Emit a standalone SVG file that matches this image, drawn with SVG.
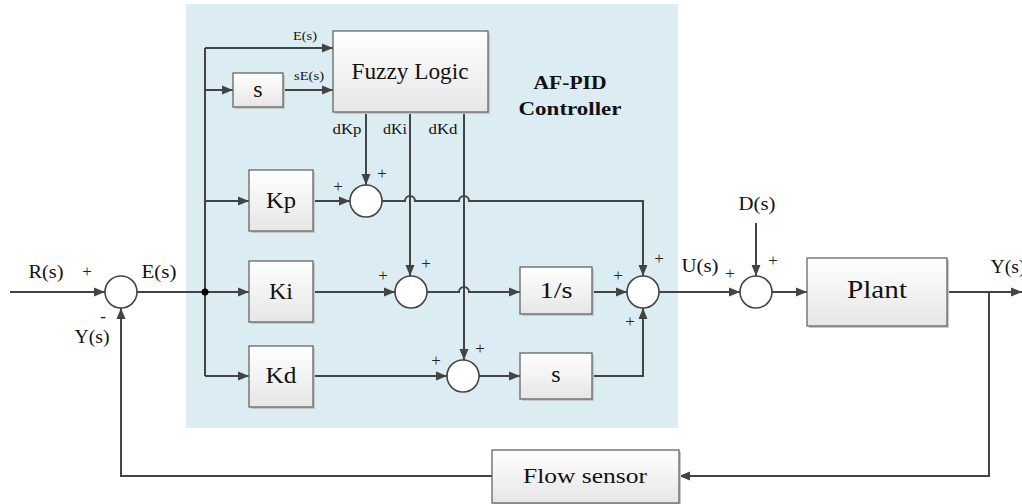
<svg xmlns="http://www.w3.org/2000/svg" width="1022" height="504" viewBox="0 0 1022 504">
<defs>
<linearGradient id="boxg" x1="0" y1="0" x2="0" y2="1">
<stop offset="0" stop-color="#ffffff"/>
<stop offset="1" stop-color="#e6e6e6"/>
</linearGradient>
<marker id="arr" markerUnits="userSpaceOnUse" markerWidth="12" markerHeight="10" refX="11" refY="5" orient="auto">
<path d="M0,0.5 L11,5 L0,9.5 z" fill="#444"/>
</marker>
</defs>
<style>
.box{fill:url(#boxg);stroke:#666;stroke-width:1.3}
.shd{fill:#c8c8c8}
.sum{fill:#fff;stroke:#444;stroke-width:1.6}
.ln{fill:none;stroke:#444;stroke-width:2}
.ar{marker-end:url(#arr)}
text{font-family:"Liberation Serif","Times New Roman",serif;fill:#111;text-anchor:middle;dominant-baseline:central}
.big{font-size:24px}
.mid{font-size:18px}
.sm{font-size:13px}
.lbl{font-size:15px}
.pl{font-size:17px;fill:#222}
.bold{font-size:19px;font-weight:bold}
</style>
<rect x="186" y="4" width="492" height="424" fill="#dbecf2"/>
<g id="connectors">
<path class="ln ar" d="M10,292 H105"/>
<path class="ln ar" d="M137,292 H249"/>
<path class="ln" d="M205,48 V376"/>
<path class="ln ar" d="M205,48 H333"/>
<path class="ln ar" d="M205,90 H233"/>
<path class="ln ar" d="M283,90 H333"/>
<path class="ln ar" d="M205,201 H249"/>
<path class="ln ar" d="M205,376 H249"/>
<path class="ln ar" d="M313,201 H350"/>
<path class="ln ar" d="M366,112 V185"/>
<path class="ln ar" d="M410,112 V276"/>
<path class="ln ar" d="M464,112 V360"/>
<path class="ln ar" d="M382,201 H405 a5,5 0 0 1 10,0 H459 a5,5 0 0 1 10,0 H643 V276"/>
<path class="ln ar" d="M313,292 H395"/>
<path class="ln ar" d="M427,292 H459 a5,5 0 0 1 10,0 H520"/>
<path class="ln ar" d="M592,292 H627"/>
<path class="ln ar" d="M313,376 H447"/>
<path class="ln ar" d="M479,376 H520"/>
<path class="ln ar" d="M592,376 H643 V308"/>
<path class="ln ar" d="M659,292 H740"/>
<path class="ln ar" d="M756,223 V276"/>
<path class="ln ar" d="M772,292 H807"/>
<path class="ln ar" d="M947,292 H1022"/>
<path class="ln ar" d="M989,292 V476 H679"/>
<path class="ln ar" d="M492,476 H121 V308"/>
<circle cx="205" cy="292" r="3.5" fill="#000"/>
</g>
<g id="sum-input"><circle class="sum" cx="121" cy="292" r="16"/></g>
<g id="sum-p"><circle class="sum" cx="366" cy="201" r="16"/></g>
<g id="sum-i"><circle class="sum" cx="411" cy="292" r="16"/></g>
<g id="sum-d"><circle class="sum" cx="463" cy="376" r="16"/></g>
<g id="sum-main"><circle class="sum" cx="643" cy="292" r="16"/></g>
<g id="sum-dist"><circle class="sum" cx="756" cy="292" r="16"/></g>
<g id="fuzzy"><rect class="shd" x="335" y="33" width="155" height="81"/><rect class="box" x="333" y="31" width="155" height="81"/><text x="410" y="71" style="font-size:23px" textLength="117" lengthAdjust="spacingAndGlyphs">Fuzzy Logic</text></g>
<g id="s-deriv"><rect class="shd" x="235" y="75" width="50" height="34"/><rect class="box" x="233" y="73" width="50" height="34"/><text x="258" y="89" style="font-size:24px">s</text></g>
<g id="kp"><rect class="shd" x="251" y="172" width="64" height="61"/><rect class="box" x="249" y="170" width="64" height="61"/><text class="big" x="281" y="200" textLength="30" lengthAdjust="spacingAndGlyphs">Kp</text></g>
<g id="ki"><rect class="shd" x="251" y="263" width="64" height="61"/><rect class="box" x="249" y="261" width="64" height="61"/><text class="big" x="281" y="291">Ki</text></g>
<g id="kd"><rect class="shd" x="251" y="348" width="64" height="61"/><rect class="box" x="249" y="346" width="64" height="61"/><text class="big" x="281" y="375" textLength="31" lengthAdjust="spacingAndGlyphs">Kd</text></g>
<g id="integ"><rect class="shd" x="522" y="269" width="72" height="47"/><rect class="box" x="520" y="267" width="72" height="47"/><text class="big" x="556" y="290" textLength="33" lengthAdjust="spacingAndGlyphs">1/s</text></g>
<g id="s-lower"><rect class="shd" x="522" y="355" width="72" height="46"/><rect class="box" x="520" y="353" width="72" height="46"/><text class="big" x="556" y="374">s</text></g>
<g id="plant"><rect class="shd" x="809" y="260" width="140" height="68"/><rect class="box" x="807" y="258" width="140" height="68"/><text x="877" y="289" style="font-size:25px" textLength="60" lengthAdjust="spacingAndGlyphs">Plant</text></g>
<g id="sensor"><rect class="shd" x="494" y="452" width="187" height="53"/><rect class="box" x="492" y="450" width="187" height="53"/><text x="585" y="475" style="font-size:22px" textLength="124" lengthAdjust="spacingAndGlyphs">Flow sensor</text></g>
<g id="labels">
<text class="bold" x="570" y="82" textLength="73" lengthAdjust="spacingAndGlyphs">AF-PID</text>
<text class="bold" x="570" y="108" textLength="103" lengthAdjust="spacingAndGlyphs">Controller</text>
<text class="sm" x="305" y="35" textLength="24" lengthAdjust="spacingAndGlyphs">E(s)</text>
<text class="sm" x="309" y="75" textLength="30" lengthAdjust="spacingAndGlyphs">sE(s)</text>
<text class="lbl" x="347" y="129" textLength="29" lengthAdjust="spacingAndGlyphs">dKp</text>
<text class="lbl" x="395" y="129" textLength="24" lengthAdjust="spacingAndGlyphs">dKi</text>
<text class="lbl" x="443" y="129" textLength="29" lengthAdjust="spacingAndGlyphs">dKd</text>
<text class="mid" x="46" y="272" textLength="35" lengthAdjust="spacingAndGlyphs">R(s)</text>
<text class="mid" x="159" y="272" textLength="35" lengthAdjust="spacingAndGlyphs">E(s)</text>
<text class="mid" x="92" y="337" textLength="35" lengthAdjust="spacingAndGlyphs">Y(s)</text>
<text class="mid" x="700" y="266" textLength="37" lengthAdjust="spacingAndGlyphs">U(s)</text>
<text class="mid" x="757" y="204" textLength="37" lengthAdjust="spacingAndGlyphs">D(s)</text>
<text class="mid" x="1008" y="267" textLength="35" lengthAdjust="spacingAndGlyphs">Y(s)</text>
<text class="pl" x="87" y="271">+</text>
<text class="pl" x="103" y="316" style="font-weight:bold">-</text>
<text class="pl" x="338" y="186">+</text>
<text class="pl" x="382" y="173">+</text>
<text class="pl" x="383" y="275">+</text>
<text class="pl" x="426" y="263">+</text>
<text class="pl" x="436" y="360">+</text>
<text class="pl" x="480" y="348">+</text>
<text class="pl" x="618" y="275">+</text>
<text class="pl" x="659" y="258">+</text>
<text class="pl" x="630" y="321">+</text>
<text class="pl" x="730" y="273">+</text>
<text class="pl" x="773" y="260">+</text>
</g>
</svg>
